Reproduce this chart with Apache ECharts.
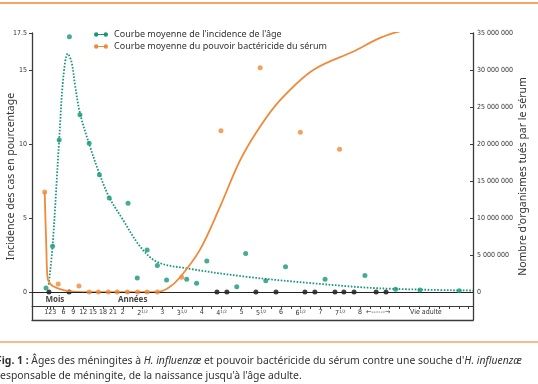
<!DOCTYPE html>
<html><head><meta charset="utf-8">
<script src="https://cdn.jsdelivr.net/npm/echarts@6/dist/echarts.min.js"></script>
<style>html,body{margin:0;padding:0;background:#fff}#c{width:538px;height:384px}</style>
</head><body><div id="c"></div>
<script>
// ---- data (x = age in months) ----
const xLabelMonths = [2, 6, 9, 12, 15, 18, 21, 24, 30, 36, 42, 48, 54, 60, 66, 72, 78, 84, 90, 96, 101.5, 116];
const xLabelTexts = ['123', '6', '9', '12', '15', '18', '21', '2', '2½', '3', '3½', '4', '4½', '5', '5½', '6', '6½', '7', '7½', '8', '←------→', 'Vie adulte'];
const xTickMonths = [1, 2, 3, 6, 9, 12, 15, 18, 21, 24, 27, 30, 33, 36, 39, 42, 45, 48, 51, 54, 57, 60, 63, 66, 69, 72, 75, 78, 81, 84, 87, 90, 93, 96, 99, 102, 105, 108, 111, 114, 117, 120, 123, 126, 129];
const periodMonths = [3.4, 27];
const periodTexts = ['Mois', 'Années'];
const leftTicks = [0, 5, 10, 15, 17.5];
const rightTicks = [0, 5000000, 10000000, 15000000, 20000000, 25000000, 30000000, 35000000];

const incidenceMonths = [0.7, 2.7, 4.7, 7.8, 11.0, 13.8, 16.9, 19.9, 25.6, 28.4, 31.4, 34.5, 37.3, 43.4, 46.4, 49.5, 58.6, 61.3, 67.4, 73.4, 85.4, 97.5, 106.8, 114.2, 126.1];
const incidenceValues = [0.27, 3.1, 10.27, 17.25, 11.98, 10.05, 7.93, 6.35, 5.99, 0.95, 2.84, 1.80, 0.81, 0.86, 0.59, 2.09, 0.36, 2.61, 0.77, 1.71, 0.86, 1.12, 0.18, 0.14, 0.09];

const incCurveMonths = [1.5, 2.7, 4.7, 6.0, 7.3, 8.5, 9.5, 11, 13.8, 16.9, 19.9, 24, 29.2, 34.3, 43.4, 61.6, 81.8, 102, 130.3];
const incCurveValues = [0.5, 3.1, 10.3, 14.6, 16.1, 15.5, 14.0, 12.1, 10.0, 8.0, 6.4, 4.9, 3.1, 2.05, 1.6, 1.03, 0.59, 0.25, 0.1];

const serumMonths = [0.3, 4.4, 10.7, 13.8, 16.6, 19.6, 22.3, 25.4, 28.5, 31.4, 34.5, 41.9, 53.8, 65.7, 77.9, 89.8, 102.3, 114.2, 125.8];
const serumValues = [13500000, 1080000, 800000, 0, 0, 0, 0, 0, 0, 0, 0, 2000000, 21800000, 30300000, 21600000, 19300000, 35400000, 35400000, 35400000];

const serumCurveMonths = [0.3, 0.8, 1.2, 2, 3, 5, 8, 12, 34.5, 38, 41.4, 47.4, 53.5, 59.6, 65.6, 71.7, 81.8, 94, 103, 111, 130.3];
const serumCurveValues = [13500000, 6000000, 1800000, 1100000, 750000, 400000, 100000, 0, 0, 600000, 2000000, 5700000, 11500000, 17800000, 22300000, 25900000, 30000000, 32500000, 34500000, 35400000, 35400000];

const zeroMonths = [1.6, 7.7, 52.6, 55.6, 64.4, 70.5, 79.3, 82.3, 88.4, 91.1, 94.2, 100.9, 103.9];

const legendNames = ["Courbe moyenne de l'incidence de l'âge", 'Courbe moyenne du pouvoir bactéricide du sérum'];
const leftTitle = 'Incidence des cas en pourcentage';
const rightTitle = "Nombre d'organismes tués par le sérum";

// ---- chart ----
const GREEN = '#17967a', ORANGE = '#ef8a3a', AXIS = '#3a3a3a';
const NARROW = "'Liberation Sans Narrow','DejaVu Sans Condensed','Roboto',sans-serif";
const SANS = "'Noto Sans','Open Sans',sans-serif";
const zip = (a, b) => a.map((v, i) => [v, b[i]]);
const labelMap = {}; xLabelMonths.forEach((m, i) => labelMap[m] = xLabelTexts[i]);
const periodMap = {}; periodMonths.forEach((m, i) => periodMap[m] = periodTexts[i]);
const legendIcon = 'path://M0,2.5A2.5,2.5,0,1,1,5,2.5A2.5,2.5,0,1,1,0,2.5Z M11,2.5A2.5,2.5,0,1,1,16,2.5A2.5,2.5,0,1,1,11,2.5Z M4,2H12V3H4Z';

const chart = echarts.init(document.getElementById('c'), null, {renderer: 'canvas'});
chart.setOption({
  animation: false,
  backgroundColor: '#fff',
  grid: {left: 32, right: 65, top: 33, bottom: 64, containLabel: false, outerBoundsMode: 'none'},
  legend: {
    orient: 'vertical', left: 89, top: 25, itemWidth: 14, itemHeight: 5, itemGap: 3,
    icon: legendIcon, data: legendNames,
    textStyle: {fontFamily: SANS, fontSize: 9, color: '#333', padding: [0, 0, 0, 1]}
  },
  xAxis: [
    { // tick axis
      type: 'value', min: -3.55, max: 130.3, offset: -14, position: 'bottom',
      axisLine: {show: true, onZero: false, lineStyle: {color: AXIS, width: 1}},
      axisTick: {show: true, customValues: xTickMonths, length: 3, lineStyle: {color: AXIS, width: 1}},
      axisLabel: {
        show: true, customValues: xLabelMonths, margin: 3, fontFamily: NARROW, fontSize: 7, color: '#333',
        formatter: v => { const t = labelMap[v] || ''; return t.endsWith('½') ? t.slice(0, -1) + '{s|1/2}' : t; },
        rich: {s: {fontSize: 4.5, verticalAlign: 'top', fontFamily: NARROW, color: '#333', padding: [0, 0, 4, 0]}}
      },
      splitLine: {show: false}
    },
    { // frame bottom
      type: 'value', min: -3.55, max: 130.3, position: 'bottom', gridIndex: 0,
      axisLine: {show: true, onZero: false, lineStyle: {color: AXIS, width: 1.3}},
      axisTick: {show: false}, axisLabel: {show: false}, splitLine: {show: false}
    },
    { // period names
      type: 'value', min: -3.55, max: 130.3, position: 'bottom', offset: -26, gridIndex: 0,
      axisLine: {show: false}, axisTick: {show: false}, splitLine: {show: false},
      axisLabel: {show: true, customValues: periodMonths, margin: 2, fontFamily: SANS, fontSize: 8, fontWeight: 'bold', color: '#444',
        formatter: v => periodMap[v] || ''}
    }
  ],
  yAxis: [
    {
      type: 'value', min: -1.89, max: 17.5, position: 'left',
      name: leftTitle, nameLocation: 'middle', nameGap: 15, nameRotate: 90, nameMoveOverlap: false,
      nameTextStyle: {fontFamily: SANS, fontSize: 10.5, color: '#333'},
      axisLine: {show: true, onZero: false, lineStyle: {color: AXIS, width: 1.3}},
      axisTick: {show: true, customValues: leftTicks, length: 3, lineStyle: {color: AXIS}},
      axisLabel: {show: true, customValues: leftTicks, margin: 5, fontFamily: NARROW, fontSize: 7, color: '#333',
        formatter: v => String(v)},
      splitLine: {show: false}
    },
    {
      type: 'value', min: -3780000, max: 35000000, position: 'right',
      name: rightTitle, nameLocation: 'middle', nameGap: 45, nameRotate: 90, nameMoveOverlap: false,
      nameTextStyle: {fontFamily: SANS, fontSize: 10.5, color: '#333'},
      axisLine: {show: true, onZero: false, lineStyle: {color: AXIS, width: 1.3}},
      axisTick: {show: true, inside: true, customValues: rightTicks, length: 3, lineStyle: {color: AXIS}},
      axisLabel: {show: true, customValues: rightTicks, margin: 4, fontFamily: NARROW, fontSize: 7, color: '#333',
        formatter: v => String(Math.round(v)).replace(/\B(?=(\d{3})+(?!\d))/g, ' ')},
      splitLine: {show: false}
    }
  ],
  series: [
    {
      name: 'zero', type: 'scatter', xAxisIndex: 0, yAxisIndex: 0, z: 3,
      data: zeroMonths.map(m => [m, 0]), symbolSize: 5, itemStyle: {color: '#111'},
      markLine: {silent: true, symbol: 'none', label: {show: false}, lineStyle: {color: '#222', width: 1.2, type: 'solid'}, data: [{yAxis: 0}]}
    },
    {
      name: legendNames[0], type: 'line', xAxisIndex: 0, yAxisIndex: 0, z: 4,
      data: zip(incCurveMonths, incCurveValues), smooth: 0.35, showSymbol: false, symbol: 'none',
      itemStyle: {color: GREEN}, lineStyle: {color: GREEN, width: 1.8, type: [1.6, 1.6]}
    },
    {
      name: 'incidence points', type: 'scatter', xAxisIndex: 0, yAxisIndex: 0, z: 5,
      data: zip(incidenceMonths, incidenceValues), symbolSize: 5, itemStyle: {color: GREEN}
    },
    {
      name: legendNames[1], type: 'line', xAxisIndex: 0, yAxisIndex: 1, z: 4,
      data: zip(serumCurveMonths, serumCurveValues), smooth: 0.35, showSymbol: false, symbol: 'none',
      itemStyle: {color: ORANGE}, lineStyle: {color: ORANGE, width: 1.8}
    },
    {
      name: 'serum points', type: 'scatter', xAxisIndex: 0, yAxisIndex: 1, z: 5,
      data: zip(serumMonths, serumValues), symbolSize: 5, itemStyle: {color: ORANGE}
    }
  ],
  graphic: [
    {type: 'line', shape: {x1: 0, y1: 3, x2: 538, y2: 3}, style: {stroke: '#f1a566', lineWidth: 2}},
    {type: 'line', shape: {x1: 0, y1: 342, x2: 538, y2: 342}, style: {stroke: '#f1a566', lineWidth: 1.5}},
    {type: 'text', left: -4, top: 354, style: {
      text: "{b|Fig. 1 :} Âges des méningites à {i|H. influenzæ} et pouvoir bactéricide du sérum contre une souche d'{i|H. influenzæ}\nresponsable de méningite, de la naissance jusqu'à l'âge adulte.",
      fontFamily: SANS, fontSize: 10.4, fill: '#333', lineHeight: 15,
      rich: {b: {fontWeight: 'bold', fontFamily: SANS, fontSize: 10.4, fill: '#333'}, i: {fontStyle: 'italic', fontFamily: SANS, fontSize: 10.4, fill: '#333'}}
    }}
  ]
});
</script></body></html>
